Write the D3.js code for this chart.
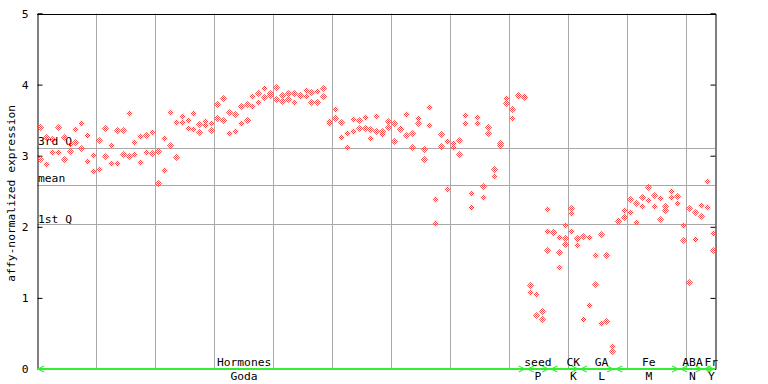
<!DOCTYPE html>
<html><head><meta charset="utf-8">
<script src="https://cdn.jsdelivr.net/npm/d3@7/dist/d3.min.js"></script>
<style>
html,body{margin:0;padding:0;background:#fff;}
svg{display:block;}
text{font-family:"DejaVu Sans Mono","Liberation Mono",monospace;font-size:11.3px;fill:#000;}
</style></head>
<body><svg id="c" width="768" height="384"></svg>
<script>
// replicate values per sample column (0..114)
const rep1 = [3.40,3.26,3.23,3.40,3.27,3.17,3.38,3.46,3.29,3.01,3.22,3.39,3.15,3.36,3.36,3.60,3.19,3.28,3.29,3.33,
  3.07,3.25,3.62,3.47,3.56,3.50,3.60,3.45,3.49,3.46,3.73,3.81,3.62,3.59,3.70,3.73,3.84,3.88,3.95,3.88,
  3.97,3.85,3.88,3.88,3.85,3.93,3.90,3.91,3.95,3.49,3.66,3.47,3.32,3.52,3.50,3.54,3.38,3.56,3.35,3.49,
  3.46,3.39,3.59,3.32,3.53,3.09,3.69,2.39,3.31,3.21,3.18,3.22,3.57,2.47,3.54,2.57,3.40,2.81,3.18,3.81,
  3.66,3.85,3.84,1.18,1.05,0.81,2.25,1.93,1.85,2.02,2.26,1.84,1.87,1.85,1.60,1.90,1.60,0.33,2.09,2.24,
  2.39,2.33,2.42,2.56,2.45,2.40,2.29,2.50,2.43,2.02,2.26,2.21,2.31,2.64,1.91];
const rep2 = [2.95,2.89,3.05,3.05,2.95,3.06,3.19,3.11,2.93,2.78,2.81,3.00,2.90,2.90,3.02,3.00,3.02,2.91,3.05,3.04,
  2.62,2.80,3.15,2.98,3.47,3.39,3.38,3.33,3.43,3.36,3.53,3.50,3.32,3.35,3.46,3.50,3.70,3.76,3.83,3.85,
  3.80,3.77,3.80,3.76,3.84,3.84,3.76,3.76,3.84,3.46,3.53,3.26,3.12,3.35,3.39,3.39,3.25,3.35,3.31,3.40,
  3.21,3.37,3.29,3.12,3.46,2.95,3.43,2.06,3.14,2.53,3.12,3.02,3.46,2.28,3.46,2.42,3.32,2.71,3.15,3.74,
  3.53,3.845,3.83,1.09,0.76,0.70,1.94,1.92,1.64,1.84,2.19,1.74,0.70,0.90,1.19,0.64,0.67,0.26,2.08,2.14,
  2.21,2.07,2.29,2.38,2.29,2.11,2.24,2.42,2.33,1.81,1.22,1.83,2.15,2.28,1.67];
// third replicate, only where present: [column, value]
const rep3 = [[86,1.67],[88,1.43],[89,1.76],[90,1.94],[91,1.83]];
const yTicks = [0,1,2,3,4,5];
const quartiles = [{label:"3rd Q", value:3.108, dy:-3},{label:"mean", value:2.592, dy:-3},{label:"1st Q", value:2.035, dy:-1}];
const groupNames = ["Hormones","seed","CK","GA","Fe","ABA","Fr"];
const groupSources = ["Goda","P","K","L","M","N","Y"];
const groupStart = [0,83,87,92,98,109,113];
const groupEnd   = [82,86,91,97,108,112,114];
const groupLabelAt = [34.5,84.3,90.3,95.1,103.1,110.5,113.7];
const yTitle = "affy-normalized expression";

const svg = d3.select("#c");
const L=37, R=715, T=13.5, B=369;
const nCols = rep1.length;
const x = d3.scaleLinear().domain([0,114.915]).range([L,R]);
const y = d3.scaleLinear().domain([0,5]).range([B,T]);
const px = c => x(c+0.6);

// pattern for checkered diamonds
const defs = svg.append("defs");
const pat = defs.append("pattern").attr("id","chk").attr("patternUnits","userSpaceOnUse")
  .attr("width",2).attr("height",2);
pat.append("rect").attr("x",0).attr("y",0).attr("width",1).attr("height",1).attr("fill","#ff4040").attr("shape-rendering","crispEdges");
pat.append("rect").attr("x",1).attr("y",1).attr("width",1).attr("height",1).attr("fill","#ff4040").attr("shape-rendering","crispEdges");

// vertical grid
const gx = d3.range(10,115,10);
svg.append("g").selectAll("line").data(gx).join("line")
  .attr("x1",d=>Math.round(x(d))+0.5).attr("x2",d=>Math.round(x(d))+0.5)
  .attr("y1",T).attr("y2",B).attr("stroke","#a8a8a8").attr("stroke-width",1);
// quartile lines
svg.append("g").selectAll("line").data(quartiles).join("line")
  .attr("x1",L).attr("x2",R)
  .attr("y1",d=>Math.round(y(d.value))+0.5).attr("y2",d=>Math.round(y(d.value))+0.5)
  .attr("stroke","#a8a8a8").attr("stroke-width",1);
svg.append("g").selectAll("text").data(quartiles).join("text")
  .attr("x",L+1).attr("y",d=>Math.round(y(d.value))+d.dy).text(d=>d.label);

// axes frame
const leftAxis = d3.axisLeft(y).tickValues(yTicks).tickSize(-5).tickPadding(9).tickFormat(d3.format("d"));
const gl = svg.append("g").attr("transform",`translate(${L+0.5},0)`).call(leftAxis);
gl.select(".domain").attr("stroke","#000");
gl.selectAll(".tick line").attr("stroke","#000");
gl.selectAll("text").attr("font-family","DejaVu Sans Mono").attr("font-size","11.3px").attr("fill","#000");
const rightAxis = d3.axisRight(y).tickValues(yTicks).tickSize(-5).tickFormat("");
const gr = svg.append("g").attr("transform",`translate(${R+0.5},0)`).call(rightAxis);
gr.select(".domain").attr("stroke","#000");
gr.selectAll(".tick line").attr("stroke","#000");
svg.append("line").attr("x1",L).attr("x2",R+1).attr("y1",Math.round(T)+0.5).attr("y2",Math.round(T)+0.5).attr("stroke","#000");

// y title
svg.append("text").attr("transform",`translate(15,${(y(0)+y(5))/2+2}) rotate(-90)`)
  .attr("text-anchor","middle").text(yTitle);

// points
const pts = [];
for(let c=0;c<nCols;c++){ pts.push({c, v:rep1[c]}); pts.push({c, v:rep2[c]}); }
rep3.forEach(([c,v])=>pts.push({c,v}));
const diamond = (cx,cy)=>`M${cx},${cy-3.5}L${cx+3.5},${cy}L${cx},${cy+3.5}L${cx-3.5},${cy}Z`;
svg.append("g").selectAll("path").data(pts).join("path")
  .attr("d",d=>diamond(Math.floor(px(d.c))+0.5, Math.round(y(d.v))+0.5))
  .attr("fill","url(#chk)");

// group line with arrows
const green = "#33ee33";
const gb = svg.append("g");
gb.append("line").attr("x1",L).attr("x2",R).attr("y1",B).attr("y2",B).attr("stroke",green).attr("stroke-width",2);
groupNames.forEach((name,i)=>{
  const s = i===0 ? L+1 : x(groupStart[i]) + 1;
  const e = x(groupEnd[i]+1) - 2;
  gb.append("path").attr("d",`M${s+6},${B-3}L${s},${B}L${s+6},${B+3}`).attr("fill","none").attr("stroke",green).attr("stroke-width",1.2);
  gb.append("path").attr("d",`M${e-6},${B-3}L${e},${B}L${e-6},${B+3}`).attr("fill","none").attr("stroke",green).attr("stroke-width",1.2);
  gb.append("text").attr("x",px(groupLabelAt[i])).attr("y",366).attr("text-anchor","middle").text(name);
  gb.append("text").attr("x",px(groupLabelAt[i])).attr("y",380).attr("text-anchor","middle").text(groupSources[i]);
});
</script></body></html>
